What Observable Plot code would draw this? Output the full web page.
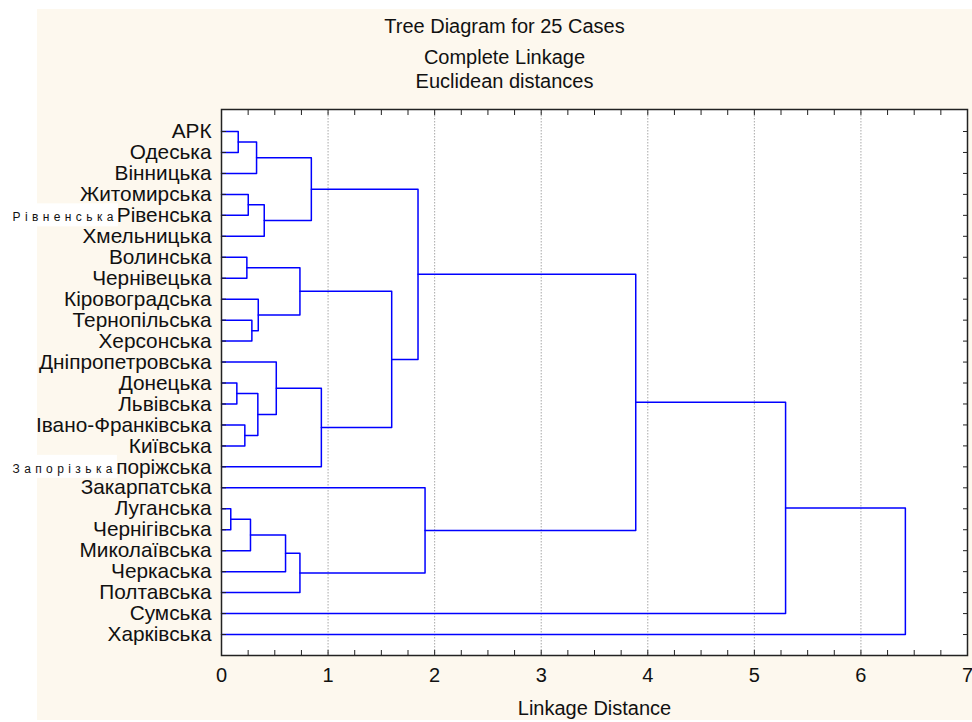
<!DOCTYPE html>
<html><head><meta charset="utf-8">
<script src="https://cdn.jsdelivr.net/npm/d3@7"></script>
<script src="https://cdn.jsdelivr.net/npm/@observablehq/plot@0.6"></script>
<style>
body{margin:0;background:#fff;font-family:"Liberation Sans",Arial,sans-serif;}
#wrap{position:relative;width:972px;height:722px;overflow:hidden;}
#panel{position:absolute;left:37px;top:9px;width:935px;height:711px;background:#fdf8ee;}
.t{position:absolute;left:37px;width:935px;text-align:center;font-size:20px;color:#111;line-height:24px;}
#chart{position:absolute;left:0;top:99px;}
</style></head><body>
<div id="wrap"><div id="panel"></div>
<div class="t" style="top:14px">Tree Diagram for 25 Cases</div>
<div class="t" style="top:45px">Complete Linkage</div>
<div class="t" style="top:69px">Euclidean distances</div>
<div id="chart"></div></div>
<script>
// Leaves in dendrogram order (top to bottom)
const leaves = ["АРК","Одеська","Вінницька","Житомирська","Рівенська","Хмельницька",
  "Волинська","Чернівецька","Кіровоградська","Тернопільська","Херсонська",
  "Дніпропетровська","Донецька","Львівська","Івано-Франківська","Київська","Запоріжська",
  "Закарпатська","Луганська","Чернігівська","Миколаївська","Черкаська","Полтавська",
  "Сумська","Харківська"];
// Merges: ids 0..24 are leaves, merge k creates cluster id 25+k
const mergeLeft  = [18,12,0,14,6,3,25,9,27,26,8,30,11,31,29,38,33,37,39,41,17,44,46,47];
const mergeRight = [19,13,1,15,7,4,20,10,2,28,32,5,34,21,35,22,36,16,42,43,40,45,23,24];
const mergeHeight = [0.087,0.144,0.157,0.219,0.238,0.251,0.272,0.285,0.329,0.341,0.345,0.401,
  0.514,0.601,0.736,0.736,0.843,0.937,1.597,1.844,1.910,3.887,5.293,6.417];
const xMajor = [0,1,2,3,4,5,6,7];
const xMinor = d3.range(0, 7.001, 0.25);
const xGrid = [1,2,3,4,5,6];
const notes = ["Рівненська","Запорізька"];
const noteRows = ["Рівенська","Запоріжська"];

const n = leaves.length;
const nodeX = [], nodeY = [];
leaves.forEach((_, i) => { nodeX[i] = 0; nodeY[i] = i; });
const segs = [];
mergeHeight.forEach((h, k) => {
  const a = mergeLeft[k], b = mergeRight[k], id = n + k;
  nodeX[id] = h; nodeY[id] = (nodeY[a] + nodeY[b]) / 2;
  segs.push({k, x: nodeX[a], y: nodeY[a]}, {k, x: h, y: nodeY[a]},
            {k, x: h, y: nodeY[b]}, {k, x: nodeX[b], y: nodeY[b]});
});
const rows = d3.range(n);
const blank = () => "";

const plot = Plot.plot({
  width: 972, height: 623,
  marginLeft: 221, marginRight: 5, marginTop: 10, marginBottom: 67,
  style: {fontFamily: '"Liberation Sans", Arial, sans-serif', fontSize: "20px", color: "#111", background: "transparent"},
  x: {domain: [0, 7], axis: null},
  y: {domain: [-1.05, 25], reverse: true, axis: null},
  marks: [
    Plot.frame({fill: "white", stroke: null}),
    Plot.gridX(xGrid, {stroke: "#a8a8a8", strokeOpacity: 1, strokeDasharray: "1.5,1.5"}),
    Plot.line(segs, {x: "x", y: "y", z: "k", stroke: "#0000ff", strokeWidth: 1.5}),
    Plot.axisX(xMinor, {anchor: "bottom", label: null, tickSize: -5, tickFormat: blank, stroke: "#222"}),
    Plot.axisX(xMinor, {anchor: "top", label: null, tickSize: -5, tickFormat: blank, stroke: "#222"}),
    Plot.axisX(xMajor, {anchor: "bottom", label: null, tickSize: 0, tickPadding: 12, fontSize: 20}),
    Plot.axisY(rows, {anchor: "left", label: null, tickSize: -5, tickFormat: blank, stroke: "#222"}),
    Plot.axisY(rows, {anchor: "right", label: null, tickSize: -5, tickFormat: blank, stroke: "#222"}),
    Plot.axisY(rows, {anchor: "left", label: null, tickSize: 0, tickPadding: 10, tickFormat: i => leaves[i], fontSize: 20.8}),
    Plot.frame({stroke: "#222", strokeWidth: 1.5}),
    Plot.text(["Linkage Distance"], {text: d => d, frameAnchor: "bottom", lineAnchor: "middle", dy: 53, fontSize: 20}),
    Plot.text(notes, {y: (d, i) => leaves.indexOf(noteRows[i]), text: d => d, frameAnchor: "left",
      dx: -209, dy: 2, textAnchor: "start", fontSize: 12, fill: "#111"})
  ]
});
document.getElementById("chart").append(plot);

// white boxes behind the spaced annotations
const ys = plot.scale("y");
const sr = plot.getBoundingClientRect();
plot.querySelectorAll("text").forEach(t => {
  const i = notes.indexOf(t.textContent);
  if (i < 0) return;
  t.style.letterSpacing = "4.4px";
  const r = t.getBoundingClientRect();
  const cy = ys.apply(leaves.indexOf(noteRows[i]));
  const rect = document.createElementNS("http://www.w3.org/2000/svg", "rect");
  rect.setAttribute("x", 0);
  rect.setAttribute("y", cy - 11.5);
  rect.setAttribute("width", r.right - sr.left);
  rect.setAttribute("height", 23);
  rect.setAttribute("fill", "white");
  plot.insertBefore(rect, t.parentNode);
});
</script>
</body></html>
